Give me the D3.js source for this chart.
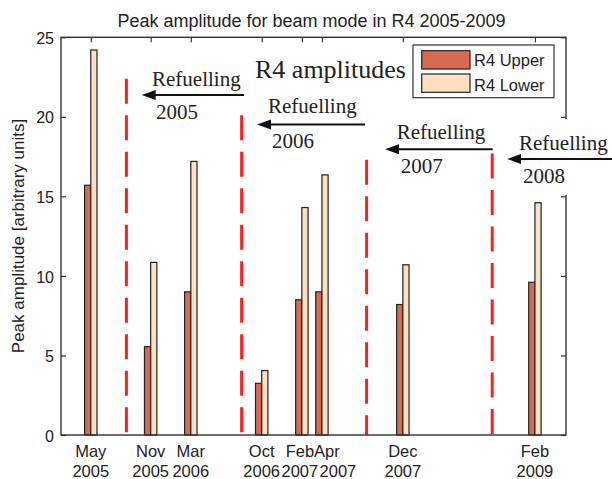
<!DOCTYPE html>
<html>
<head>
<meta charset="utf-8">
<script src="https://cdn.jsdelivr.net/npm/d3@7"></script>
<style>
  body { margin: 0; background: #fff; }
  text { font-family: "Liberation Sans", Arial, sans-serif; fill: #222; }
</style>
</head>
<body>
<svg id="chart" width="612" height="479"></svg>
<script>
const dates = ["2005-05-10", "2005-11-11", "2006-03-15", "2006-10-20", "2007-02-21", "2007-04-24", "2007-12-30", "2009-02-10"];
const monthLabels = ["May", "Nov", "Mar", "Oct", "Feb", "Apr", "Dec", "Feb"];
const yearLabels = ["2005", "2005", "2006", "2006", "2007", "2007", "2007", "2009"];
const upperValues = [15.7, 5.55, 9.0, 3.25, 8.5, 9.0, 8.2, 9.6];
const lowerValues = [24.2, 10.85, 17.2, 4.05, 14.3, 16.35, 10.7, 14.6];
const yTicks = [0, 5, 10, 15, 20, 25];

// refuelling markers
const refuelDates = ["2005-08-28", "2006-08-19", "2007-09-09", "2008-10-01"];
const refuelTops = [22.4, 20.1, 17.3, 17.7];
const refuelYears = ["2005", "2006", "2007", "2008"];

const seriesNames = ["R4 Upper", "R4 Lower"];
const seriesColors = ["#d96a52", "#fde0c2"];

const parse = d3.utcParse("%Y-%m-%d");
const margin = { top: 37.3, right: 46, bottom: 44, left: 61 };
const W = 612, H = 479;
const barW = 6.2;

// label nudges so the crowded Feb/Apr 2007 labels sit side by side, [month dx, year dx]
const labelShift = [[0, 0], [0, 0], [0, 0], [0, 0], [-2, -2], [5, 16], [0, 0], [0, 0]];

const svg = d3.select("#chart");

const x = d3.scaleUtc()
    .domain([parse("2005-02-07"), parse("2009-05-17")])
    .range([margin.left, W - margin.right]);
const y = d3.scaleLinear()
    .domain([0, 25])
    .range([H - margin.bottom, margin.top]);

const rows = dates.map((d, i) => ({
    date: parse(d), upper: upperValues[i], lower: lowerValues[i],
    month: monthLabels[i], year: yearLabels[i], shift: labelShift[i]
}));

// title
svg.append("text")
    .attr("x", 311.5)
    .attr("y", 26.5)
    .attr("text-anchor", "middle")
    .attr("font-size", "18px")
    .text("Peak amplitude for beam mode in R4 2005-2009");

// axes (ticks point inwards, like matlab)
const gx = svg.append("g")
    .attr("transform", `translate(0,${y(0)})`)
    .call(d3.axisBottom(x).tickValues(rows.map(r => r.date)).tickSize(-5).tickPadding(0));
gx.select(".domain").remove();
gx.selectAll(".tick text").remove();

svg.append("g")
    .attr("transform", `translate(0,${y(25)})`)
    .call(d3.axisTop(x).tickValues(rows.map(r => r.date)).tickSize(-5).tickFormat(""))
    .call(g => g.select(".domain").remove());

svg.append("g")
    .attr("transform", `translate(${W - margin.right},0)`)
    .call(d3.axisRight(y).tickValues(yTicks).tickSize(-5).tickFormat(""))
    .call(g => g.select(".domain").remove());

const gy = svg.append("g")
    .attr("transform", `translate(${margin.left},0)`)
    .call(d3.axisLeft(y).tickValues(yTicks).tickSize(-5).tickPadding(7));
gy.select(".domain").remove();
gy.selectAll(".tick text")
    .attr("font-size", "16px")
    .attr("dy", "0.38em")
    .style("font-family", "'Liberation Sans', Arial, sans-serif")
    .attr("fill", "#222");

svg.selectAll(".tick line").attr("stroke", "#333").attr("stroke-width", 1.2);

// two-line date labels
const xl = svg.append("g").selectAll("text")
    .data(rows)
    .join("text")
    .attr("text-anchor", "middle")
    .attr("font-size", "16.5px");
xl.append("tspan").attr("x", d => x(d.date) + d.shift[0]).attr("y", 456.5).text(d => d.month);
xl.append("tspan").attr("x", d => x(d.date) + d.shift[1]).attr("y", 477).text(d => d.year);

// y label
svg.append("text")
    .attr("transform", `translate(24,236) rotate(-90)`)
    .attr("text-anchor", "middle")
    .attr("font-size", "17px")
    .text("Peak amplitude [arbitrary units]");

// bars
const bars = svg.append("g");
bars.selectAll("rect.upper")
    .data(rows)
    .join("rect")
    .attr("class", "upper")
    .attr("x", d => x(d.date) - barW)
    .attr("y", d => y(d.upper))
    .attr("width", barW)
    .attr("height", d => y(0) - y(d.upper))
    .attr("fill", seriesColors[0])
    .attr("stroke", "#222")
    .attr("stroke-width", 1.2);
bars.selectAll("rect.lower")
    .data(rows)
    .join("rect")
    .attr("class", "lower")
    .attr("x", d => x(d.date))
    .attr("y", d => y(d.lower))
    .attr("width", barW)
    .attr("height", d => y(0) - y(d.lower))
    .attr("fill", seriesColors[1])
    .attr("stroke", "#222")
    .attr("stroke-width", 1.2);

// refuelling dashed lines (drawn top -> bottom so the dash starts at the top)
svg.append("g").selectAll("line")
    .data(refuelDates.map((d, i) => ({ date: parse(d), top: refuelTops[i] })))
    .join("line")
    .attr("x1", d => x(d.date))
    .attr("x2", d => x(d.date))
    .attr("y1", d => y(d.top))
    .attr("y2", y(0))
    .attr("stroke", "#ff1f1f")
    .attr("stroke-width", 3)
    .attr("stroke-dasharray", "25,11.5");

// plot box
svg.append("rect")
    .attr("x", margin.left)
    .attr("y", y(25))
    .attr("width", x.range()[1] - margin.left)
    .attr("height", y(0) - y(25))
    .attr("fill", "none")
    .attr("stroke", "#333")
    .attr("stroke-width", 1.4);

// legend
const lg = svg.append("g");
lg.append("rect")
    .attr("x", 413).attr("y", 45).attr("width", 141).attr("height", 52.7)
    .attr("fill", "#fff").attr("stroke", "#333").attr("stroke-width", 1.2);
seriesNames.forEach((name, i) => {
    lg.append("rect")
        .attr("x", 421.7).attr("y", 50.7 + i * 23.3)
        .attr("width", 48.3).attr("height", 18.3)
        .attr("fill", seriesColors[i]).attr("stroke", "#222").attr("stroke-width", 1.2);
    lg.append("text")
        .attr("x", 474).attr("y", 65.7 + i * 25)
        .attr("font-size", "16.5px")
        .text(name);
});

// annotations
const serif = "'Liberation Serif', 'Times New Roman', serif";
svg.append("text")
    .attr("x", 255).attr("y", 78)
    .attr("font-size", "26px")
    .style("font-family", serif)
    .attr("fill", "#111")
    .text("R4 amplitudes");

// annotation layout: text x / baseline, arrow y, arrow tip and end
const annoLayout = [
    { tx: 152, ty: 86, ay: 95, tip: 141.7, end: 244, bg: false },
    { tx: 268, ty: 113, ay: 124.5, tip: 257, end: 365, bg: false },
    { tx: 396.7, ty: 139, ay: 149.3, tip: 385, end: 492.7, bg: false },
    { tx: 519, ty: 150, ay: 159, tip: 507, end: 612, bg: true }
];

annoLayout.forEach((a, i) => {
    const g = svg.append("g");
    if (a.bg) {
        g.append("rect")
            .attr("x", 500).attr("y", 119).attr("width", 112).attr("height", 76)
            .attr("fill", "#fff");
    }
    g.append("text")
        .attr("x", a.tx).attr("y", a.ty)
        .attr("font-size", "21px")
        .style("font-family", serif)
        .attr("fill", "#111")
        .text("Refuelling");
    g.append("line")
        .attr("x1", a.tip + 10).attr("x2", a.end)
        .attr("y1", a.ay).attr("y2", a.ay)
        .attr("stroke", "#111").attr("stroke-width", 2);
    g.append("path")
        .attr("d", `M${a.tip},${a.ay} L${a.tip + 14},${a.ay - 5} L${a.tip + 14},${a.ay + 5} Z`)
        .attr("fill", "#111");
    g.append("text")
        .attr("x", a.tx + 4).attr("y", a.ay + 23.5)
        .attr("font-size", "21px")
        .style("font-family", serif)
        .attr("fill", "#111")
        .text(refuelYears[i]);
});
</script>
</body>
</html>
